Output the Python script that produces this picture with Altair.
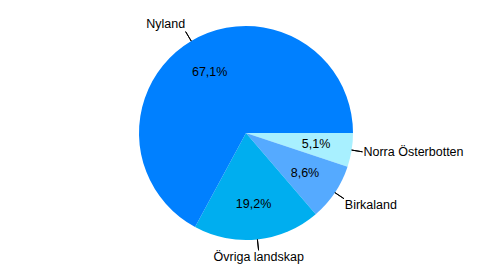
import altair as alt
import pandas as pd

regions = ["Norra Österbotten", "Birkaland", "Övriga landskap", "Nyland"]
shares = [5.1, 8.6, 19.2, 67.1]
colors = ["#A8F0FF", "#55AAFF", "#00AEEF", "#0080FF"]
order = [1, 2, 3, 4]
label_align = ["left", "left", "center", "right"]
label_baseline = ["middle", "top", "top", "bottom"]

df = pd.DataFrame({"region": regions, "share": shares, "order": order})

base = alt.Chart(df).transform_window(
    cum="sum(share)", sort=[alt.SortField("order")], frame=[None, 0]
).transform_joinaggregate(total="sum(share)").transform_calculate(
    start="PI/2 + 2*PI*(datum.cum - datum.share)/datum.total",
    end="PI/2 + 2*PI*datum.cum/datum.total",
    mid="PI/2 + 2*PI*(datum.cum - datum.share/2)/datum.total",
    pct="replace(format(datum.share, '.1f'), '.', ',') + '%'",
)

arcs = base.mark_arc().encode(
    theta=alt.Theta("start:Q", scale=None),
    theta2="end:Q",
    radius=alt.value(107),
    color=alt.Color("region:N", scale=alt.Scale(domain=regions, range=colors), legend=None),
)

inner = base.mark_text(font="Liberation Sans", fontSize=12.5, color="black").encode(
    theta=alt.Theta("mid:Q", scale=None),
    radius=alt.value(71),
    text="pct:N",
)

leaders = base.mark_arc(stroke="black", strokeWidth=1, fill=None).encode(
    theta=alt.Theta("mid:Q", scale=None),
    theta2="mid:Q",
    radius=alt.value(118),
    radius2=alt.value(107),
)

layers = [arcs, leaders, inner]
for r, a, b in zip(regions, label_align, label_baseline):
    layers.append(
        base.transform_filter(alt.datum.region == r)
        .mark_text(font="Liberation Sans", fontSize=12.5, color="black", align=a, baseline=b)
        .encode(theta=alt.Theta("mid:Q", scale=None), radius=alt.value(119), text="region:N")
    )

chart = alt.layer(*layers).properties(
    width=492, height=266, padding=0, autosize=alt.AutoSizeParams(type="none")
).configure_view(stroke=None)

chart.save("out.html", embed_options={"renderer": "svg", "actions": False})
